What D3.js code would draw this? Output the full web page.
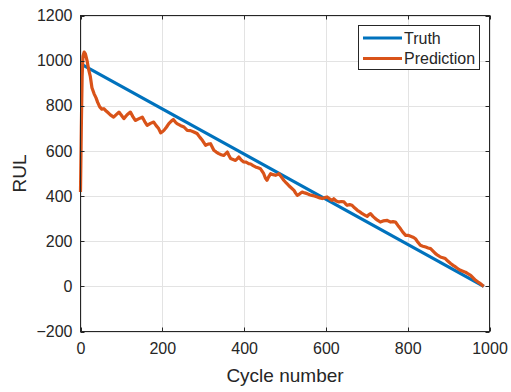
<!DOCTYPE html>
<html><head><meta charset="utf-8">
<script src="https://cdn.jsdelivr.net/npm/d3@7"></script>
<style>
html,body{margin:0;padding:0;background:#fff;}
text{font-family:"Liberation Sans",Arial,Helvetica,sans-serif;fill:#262626;}
</style></head>
<body><svg id="c" width="511" height="392"></svg>
<script>
const xTicks = [0, 200, 400, 600, 800, 1000];
const yTicks = [-200, 0, 200, 400, 600, 800, 1000, 1200];
const seriesNames = ["Truth", "Prediction"];
const truthCycles = [5, 986];
const truthValues = [981, 0];
const predCycles = [0,2,4,6,9,12,16,20,24,28,33,38,42,47,52,57,62,67,73,81,88,94,100,106,114,122,128,134,142,151,157,163,171,179,185,191,196,200,204,210,216,222,227,232,236,244,253,261,269,277,285,292,298,306,312,318,326,332,338,344,350,355,359,363,367,373,379,383,387,393,399,405,411,416,422,428,434,440,444,448,452,456,460,465,471,477,481,485,491,497,503,509,515,522,526,530,536,542,548,554,560,566,572,579,585,591,597,603,609,615,619,625,632,638,644,648,652,658,664,670,677,683,689,695,701,705,709,715,721,727,733,740,750,754,758,764,770,776,782,788,795,801,807,813,819,825,831,837,844,850,856,862,868,874,880,886,892,898,905,911,917,923,929,935,941,947,954,960,966,972,978,983,986];
const predValues = [418,700,930,1020,1038,1030,1000,960,930,880,854,835,815,795,785,787,778,770,760,750,762,772,758,743,760,772,752,735,742,750,730,713,722,728,712,699,680,685,691,705,721,732,739,728,721,713,706,691,690,684,677,660,647,625,630,632,603,595,588,583,580,588,595,580,566,562,558,565,573,560,551,550,544,542,535,529,525,521,510,499,480,470,485,499,495,492,495,499,485,470,458,447,437,425,413,403,410,418,414,411,406,403,400,396,392,389,393,396,388,381,388,378,374,376,374,366,359,362,359,348,337,330,322,316,310,318,322,310,300,292,285,290,292,288,285,287,285,270,256,240,226,226,222,218,211,195,182,178,174,170,167,156,145,137,130,127,123,112,101,93,86,78,71,67,63,56,49,38,27,19,12,4,0];

const svg = d3.select("#c");
const L = 80.5, R = 489.5, T = 15.5, B = 331.5;
const x = d3.scaleLinear().domain([0, 1000]).range([L, R]);
const y = d3.scaleLinear().domain([-200, 1200]).range([B, T]);
const axisCol = "#262626";

// grid
const g = svg.append("g");
g.selectAll(".gx").data(xTicks).enter().append("line")
  .attr("x1", d => Math.round(x(d)) + 0.5).attr("x2", d => Math.round(x(d)) + 0.5)
  .attr("y1", T).attr("y2", B).attr("stroke", "#e3e3e3").attr("stroke-width", 1);
g.selectAll(".gy").data(yTicks).enter().append("line")
  .attr("y1", d => Math.round(y(d)) + 0.5).attr("y2", d => Math.round(y(d)) + 0.5)
  .attr("x1", L).attr("x2", R).attr("stroke", "#e3e3e3").attr("stroke-width", 1);

// data lines
const truthData = truthCycles.map((c, i) => [c, truthValues[i]]);
const predData = predCycles.map((c, i) => [c, predValues[i]]);
const line = d3.line().x(d => x(d[0])).y(d => y(d[1]));
svg.append("path").datum(truthData).attr("d", line)
  .attr("fill", "none").attr("stroke", "#0072BD").attr("stroke-width", 3.2);
svg.append("path").datum(predData).attr("d", line)
  .attr("fill", "none").attr("stroke", "#D95319").attr("stroke-width", 3.2)
  .attr("stroke-linejoin", "round");

// axes
const fmt = d3.format("d");
const xAxis = d3.axisBottom(x).tickValues(xTicks).tickFormat(fmt).tickSize(0).tickPadding(12);
const yAxis = d3.axisLeft(y).tickValues(yTicks).tickFormat(fmt).tickSize(0).tickPadding(8);
const xa = svg.append("g").attr("transform", `translate(0,${B})`).call(xAxis);
const ya = svg.append("g").attr("transform", `translate(${L},0)`).call(yAxis);
[xa, ya].forEach(a => {
  a.select(".domain").remove();
  a.selectAll("text").style("font-size", "16px").attr("fill", axisCol);
});
xa.selectAll("text").attr("dy", "0.71em").attr("y", 11);

// frame
svg.append("rect").attr("x", L).attr("y", T).attr("width", R - L).attr("height", B - T)
  .attr("fill", "none").attr("stroke", axisCol).attr("stroke-width", 1);
// inward ticks on all sides
const tl = 4;
xTicks.forEach(d => {
  const px = Math.round(x(d)) + 0.5;
  svg.append("line").attr("x1", px).attr("x2", px).attr("y1", B).attr("y2", B - tl).attr("stroke", axisCol);
  svg.append("line").attr("x1", px).attr("x2", px).attr("y1", T).attr("y2", T + tl).attr("stroke", axisCol);
});
yTicks.forEach(d => {
  const py = Math.round(y(d)) + 0.5;
  svg.append("line").attr("y1", py).attr("y2", py).attr("x1", L).attr("x2", L + tl).attr("stroke", axisCol);
  svg.append("line").attr("y1", py).attr("y2", py).attr("x1", R).attr("x2", R - tl).attr("stroke", axisCol);
});

// axis titles
svg.append("text").attr("x", (L + R) / 2).attr("y", 382).attr("text-anchor", "middle")
  .style("font-size", "19px").text("Cycle number");
svg.append("text").attr("transform", `translate(26,${(T + B) / 2}) rotate(-90)`)
  .attr("text-anchor", "middle").style("font-size", "19px").text("RUL");

// legend
const lg = svg.append("g");
lg.append("rect").attr("x", 358.5).attr("y", 25.5).attr("width", 121).attr("height", 44)
  .attr("fill", "#fff").attr("stroke", axisCol).attr("stroke-width", 1);
const cols = ["#0072BD", "#D95319"];
seriesNames.forEach((n, i) => {
  const yy = 38 + i * 20.5;
  lg.append("line").attr("x1", 363).attr("x2", 402).attr("y1", yy).attr("y2", yy)
    .attr("stroke", cols[i]).attr("stroke-width", 3.2);
  lg.append("text").attr("x", 404).attr("y", yy).attr("dy", "0.35em")
    .style("font-size", "16px").text(n);
});
</script></body></html>
